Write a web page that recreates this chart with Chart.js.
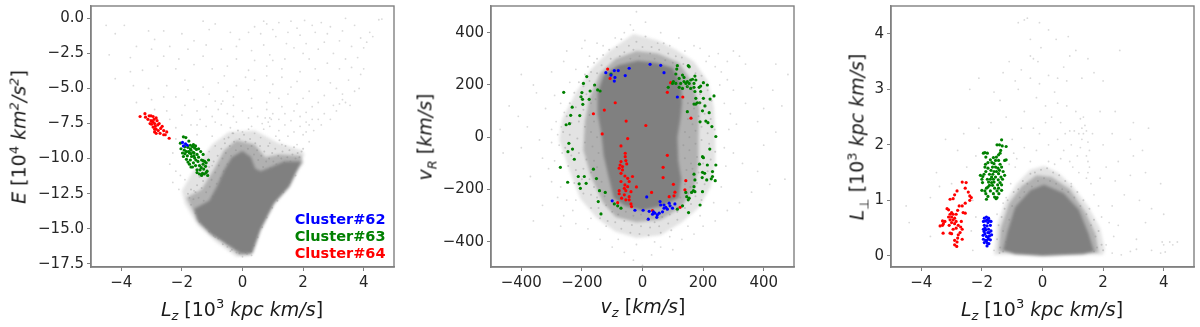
<!DOCTYPE html>
<html lang="en">
<head>
<meta charset="UTF-8">
<title>Cluster 62, 63, 64 phase space</title>
<style>
    body { margin: 0; background: #fff; font-family: "DejaVu Sans", sans-serif; }
    #wrap { position: relative; width: 1200px; height: 327px; overflow: hidden; filter: blur(0.4px); }
    canvas { position: absolute; top: 0; }
    canvas.dense { filter: blur(1.5px); }
    .lab { position: absolute; font-size: 19px; color: #1a1a1a; white-space: nowrap; transform: translate(-50%, -50%); line-height: 1; }
    .lab.rot { transform: translate(-50%, -50%) rotate(-90deg); }
    .lab sub, .lab sup { font-size: 13px; line-height: 0; }
    .key { position: absolute; right: 814.5px; font-size: 14.5px; font-weight: bold; line-height: 1; white-space: nowrap; }
</style>
<script src="https://cdn.jsdelivr.net/npm/chart.js"></script>
</head>
<body>
<div id="wrap">
    <canvas id="p1d" class="dense" width="400" height="327" style="left:0"></canvas>
    <canvas id="p2d" class="dense" width="400" height="327" style="left:400px"></canvas>
    <canvas id="p3d" class="dense" width="400" height="327" style="left:800px"></canvas>
    <canvas id="p1" width="400" height="327" style="left:0"></canvas>
    <canvas id="p2" width="400" height="327" style="left:400px"></canvas>
    <canvas id="p3" width="400" height="327" style="left:800px"></canvas>

    <div class="lab" style="left:242px;top:309px"><i>L<sub>z</sub></i> [10<sup>3</sup> <i>kpc km/s</i>]</div>
    <div class="lab rot" style="left:19px;top:137px"><i>E</i> [10<sup>4</sup> <i>km<sup>2</sup>/s<sup>2</sup></i>]</div>
    <div class="lab" style="left:643px;top:306px"><i>v<sub>z</sub></i> [<i>km/s</i>]</div>
    <div class="lab rot" style="left:425px;top:137px"><i>v<sub>R</sub></i> [<i>km/s</i>]</div>
    <div class="lab" style="left:1042px;top:309px"><i>L<sub>z</sub></i> [10<sup>3</sup> <i>kpc km/s</i>]</div>
    <div class="lab rot" style="left:857px;top:137px"><i>L<sub>⊥</sub></i> [10<sup>3</sup> <i>kpc km/s</i>]</div>

    <div class="key" style="top:212px;color:#0000ff">Cluster#62</div>
    <div class="key" style="top:229px;color:#008000">Cluster#63</div>
    <div class="key" style="top:246px;color:#ff0000">Cluster#64</div>
</div>
<script>
// tick positions
const lzTicks = [-4, -2, 0, 2, 4];
const energyTicks = [0, -2.5, -5, -7.5, -10, -12.5, -15, -17.5];
const vzTicks = [-400, -200, 0, 200, 400];
const vrTicks = [-400, -200, 0, 200, 400];
const lperpTicks = [0, 1, 2, 3, 4];

// Lz vs E : scattered field stars
const p1Field = [[-1.3,-.2],[.7,-.2],[.8,-.4],[1.2,-.3],[1.6,-.2],[2.05,-.15],[2.3,-.5],[2.6,-.3],[3.4,0],[3.7,-.5],[4.5,-.1],[4.6,-.05],[4.2,-1],[4.3,-1.3],[4.1,-1.7],[4,-2.1],[3.6,-2],[3.2,-1.6],[2.8,-1.1],[2.4,-1],[1.9,-1.2],[1.5,-1],[1.45,-1.8],[1.1,-1.3],[.6,-1.1],[.2,-1],[-.4,-1],[-1.1,-.8],[-2,-1.1],[-2.6,-.9],[-3.1,-.9],[-3.9,-.5],[-4.5,-.5],[-4.2,-1.1],[-4.4,-2.6],[-3.7,-2.8],[-3,-2.2],[-2.4,-2],[-1.8,-2.2],[-1.2,-1.9],[-.7,-2.2],[-.2,-2],[.3,-2.3],[.9,-2.6],[1.4,-2.9],[2,-2.5],[2.5,-2.2],[3,-2.5],[3.4,-2.9],[3.8,-2.8],[4,-3.6],[3.9,-4],[3.5,-4.4],[3.85,-5],[3.7,-5.2],[3.3,-5.8],[3.4,-6],[3.55,-6.2],[2.9,-4.6],[2.4,-3.6],[1.9,-3.8],[1.3,-3.6],[.8,-3.4],[.2,-3.7],[-.5,-3.4],[-1,-3.6],[-1.6,-3.3],[-2.2,-3.6],[-2.8,-3.4],[-3.3,-3.7],[-4.2,-4.3],[-3.6,-4.8],[-3.1,-5],[-2.5,-4.8],[-1.9,-4.4],[-1.3,-4.9],[-.8,-4.6],[-.2,-4.8],[.4,-4.4],[1,-4.7],[1.6,-4.9],[2.2,-5.2],[2.7,-5.5],[3,-6.2],[-3.5,-6],[-3,-5.8],[-2.2,-5.6],[-1.6,-5.8],[-.9,-5.9],[-.7,-6.1],[-.3,-5.6],[.3,-5.7],[.8,-6],[1.2,-5.7],[1.8,-6.1],[2.3,-6.3],[2.7,-6.8],[3.1,-6.6],[-2.5,-6.6],[-2,-6.9],[-1.5,-6.6],[-1,-7],[-.5,-6.8],[0,-6.6],[.5,-7],[.9,-7.1],[1,-6.8],[1.4,-6.8],[1.9,-7],[2.3,-7.2],[2.6,-7.6],[2.35,-8],[1.9,-7.7],[1.4,-7.6],[.9,-7.7],[.3,-7.7],[-.2,-7.4],[-.7,-7.6],[-1.2,-7.7],[-1.7,-7.6],[-2.2,-7.8],[-2.2,-8.6],[-1.5,-8.3],[-1,-8.4],[-.6,-8.6],[.6,-8.5],[1.1,-8.4],[1.5,-8.4],[2,-8.3],[2.2,-8.8],[1.8,-9],[1.3,-9],[.9,-8.9],[-2.3,-9.6],[-2.4,-10.4],[-2.2,-10.9],[-2.3,-11.7],[-2.1,-12.2],[-1.9,-11.5],[-1.1,-9.5],[-.9,-9.1],[-1,-10.5],[-1.6,-12.3],[-1.75,-12.8],[-.5,-16.3],[-.4,-16.6],[0,-17],[.3,-16.9],[.15,-16.8],[-.2,-16.7],[-1.2,-14.9],[-.9,-15.6],[.95,-7.2],[.85,-7.4],[.75,-7.1],[.4,-8.2],[-.3,-8.2],[0,-8.1],[.2,-7.9],[-2.05,-11.2],[-1.4,-7.2],[-.8,-6.5],[-.65,-5.9],[3.3,-5.4],[3.2,-6.1],[2.2,-7.6],[2.5,-7.2],[-.9,-.4],[.4,-.6],[1,-.8],[1.8,-.7],[2.9,-.6],[3.3,-.9],[3.9,-1.4],[2.1,-1.8],[2.7,-1.7],[.7,-1.9],[-.1,-1.5],[-1.6,-1.6],[-2.9,-1.5],[-3.5,-2],[1.7,-2.1],[2.2,-2.9],[2.8,-3.2],[3.2,-3.6],[3.6,-3.5],[1,-3],[.4,-3],[-.2,-2.9],[-1.3,-2.7],[-2.1,-2.9],[-2.6,-2.7],[-3.7,-3.8],[-.6,-4.1],[.1,-4.2],[.8,-4.1],[1.3,-4.2],[1.8,-4.5],[2.5,-4.4],[3.1,-5],[2.5,-6],[2,-5.7],[1.5,-5.4],[.9,-5.3],[.2,-5.1],[-.5,-5.2],[-1.1,-5.4],[-1.8,-5.1],[-2.6,-5.6],[-2.9,-6.5],[-2.4,-7.2],[-1.9,-6.2],[-1.2,-6.3],[-.3,-6.2],[.3,-6.4],[.8,-6.5],[1.3,-6.3],[1.7,-6.6],[2.1,-6.7],[2.9,-7.2],[-.3,-7],[.2,-7.1],[.65,-7.5],[1.2,-7.2],[1.6,-7.3],[2.1,-7.4],[-.9,-7.4],[-1.5,-7.6],[-.4,-7.8],[.7,-7.9],[1.2,-8],[1.7,-8.1],[2.1,-8.1]];
// Lz vs E : speckle round the dense part
const p1Halo = [[-1.8,-12.5],[-1.7,-12.2],[-1.62,-12.9],[-1.55,-12.4],[-1.5,-11.9],[-1.45,-12.8],[-1.42,-11.3],[-1.35,-12.1],[-1.3,-11.6],[-1.28,-13],[-1.2,-12.4],[-1.15,-11.1],[-1.1,-10.6],[-1.08,-12],[-1.02,-11.5],[-.98,-12.7],[-.95,-10.2],[-.9,-11],[-.85,-11.8],[-.82,-9.8],[-.78,-10.5],[-.72,-11.4],[-.7,-9.3],[-.66,-10],[-.62,-10.9],[-.58,-8.9],[-.55,-9.6],[-.5,-10.4],[-.46,-8.5],[-.42,-9.1],[-.38,-9.8],[-.33,-8.2],[-.28,-8.8],[-.22,-9.4],[-.15,-8],[-.1,-8.6],[-.05,-9.1],[.05,-8.3],[.1,-8.8],[.18,-9.3],[.25,-8.6],[.3,-9.1],[.38,-9.7],[.42,-8.9],[.48,-9.4],[.52,-10.1],[.58,-9.1],[.62,-9.8],[.68,-10.6],[.72,-9.5],[.78,-10.2],[.85,-9.1],[.88,-10],[.92,-10.7],[.98,-9.6],[1.02,-10.2],[1.08,-9.3],[1.12,-10.4],[1.18,-9.8],[1.22,-8.7],[1.28,-10],[1.32,-9.5],[1.38,-10.3],[1.42,-9.1],[1.48,-9.9],[1.55,-9.4],[1.58,-10.2],[1.65,-9.7],[1.7,-9.2],[1.75,-10],[1.82,-9.6],[1.88,-9.9],[1.95,-9.5],[2,-9.3],[-1.7,-13.3],[-1.55,-13.9],[-1.42,-14.5],[-1.25,-14.7],[-1.1,-15.2],[-.95,-15.5],[-.8,-15.7],[-.65,-16.1],[-.5,-16],[-.35,-16.5],[-.2,-16.4],[-.1,-16.75],[.1,-16.7],[.28,-16.6],[.38,-16.2],[.5,-15.6],[.65,-14.9],[.8,-14.2],[.98,-13.5],[1.15,-13],[1.35,-12.4],[1.55,-11.7],[1.75,-11.2]];
// Lz vs E : overplotted density outlines
const p1Outer = [[-2,-12.3],[-1.55,-10.6],[-1,-9],[-.45,-8.1],[.4,-8],[1.2,-8.9],[1.95,-9.4],[2.05,-9.7],[.98,-12.9],[.4,-15.4],[.22,-16.9],[-.2,-17],[-.9,-15.9],[-1.5,-14.7],[-1.9,-13.2]];
const p1Mid = [[-1.85,-12.8],[-1.35,-12.2],[-.95,-10.8],[-.6,-9.4],[-.2,-8.7],[.4,-9],[.75,-9.9],[1.2,-9.7],[1.95,-9.8],[2,-10.3],[1.2,-12.6],[.6,-14.7],[.28,-16.9],[-.1,-16.9],[-.7,-15.9],[-1.4,-14.7]];
const p1Core = [[-1.6,-13.6],[-1.1,-13],[-.85,-12],[-.6,-10.8],[-.35,-9.9],[0,-9.45],[.28,-9.9],[.42,-10.7],[.6,-10.9],[.95,-10.6],[1.37,-10.2],[1.95,-10.2],[1.55,-12],[1.05,-13.2],[.6,-15.1],[.33,-16.75],[-.05,-16.75],[-.6,-16],[-1.05,-15.4],[-1.5,-14.4]];
// Lz vs E : clusters
const p1Blue = [[-1.98,-8.85],[-1.95,-9.1],[-1.88,-8.95],[-1.82,-9.05]];
const p1Green = [[-2.05,-8.9],[-1.95,-8.45],[-1.87,-8.5],[-2.03,-9.3],[-1.98,-9.6],[-1.92,-9.4],[-1.85,-9.5],[-1.82,-9.8],[-1.8,-9.2],[-1.77,-8.75],[-1.75,-9.6],[-1.72,-10.1],[-1.7,-9.4],[-1.68,-9.85],[-1.65,-9.15],[-1.62,-10.3],[-1.6,-9.6],[-1.58,-9.95],[-1.55,-10.5],[-1.52,-9.35],[-1.5,-9.7],[-1.47,-10.2],[-1.45,-9.9],[-1.42,-10.5],[-1.4,-10.8],[-1.38,-9.5],[-1.35,-10.1],[-1.32,-11.05],[-1.3,-10.4],[-1.28,-10.75],[-1.25,-10.2],[-1.22,-10.55],[-1.2,-11],[-1.17,-10.9],[-1.15,-11.2],[-1.12,-10.1],[-1.75,-10.4],[-1.85,-10.05],[-1.65,-10.6],[-1.72,-9.05],[-1.58,-9.25],[-1.5,-10.8],[-1.42,-11.1],[-1.95,-9.85],[-1.8,-10.25],[-1.62,-9.55],[-1.36,-10.65],[-1.3,-10.15],[-1.26,-11.1],[-1.6,-9.8],[-1.54,-10.1],[-1.7,-9.65],[-1.9,-9.65],[-1.78,-9.5],[-1.45,-9.3],[-1.3,-9.7],[-1.2,-10.3],[-1.5,-11],[-1.7,-10.6],[-1.55,-9.1],[-1.62,-9],[-1.9,-9.15],[-1.72,-9.3],[-1.35,-11.2]];
const p1Red = [[-3.38,-7],[-3.22,-6.8],[-3.2,-7.05],[-3.12,-7.2],[-3.08,-6.95],[-3.02,-6.95],[-2.98,-7.35],[-2.95,-7],[-2.92,-7.2],[-3,-7.55],[-3.05,-7.5],[-2.9,-7.5],[-2.85,-7.1],[-2.82,-7.3],[-2.88,-7.7],[-2.95,-7.75],[-2.85,-7.9],[-2.8,-7.6],[-2.75,-7.5],[-2.78,-8],[-2.72,-8.2],[-2.85,-8.2],[-2.7,-7.85],[-2.65,-7.7],[-2.6,-8],[-2.55,-8.3],[-2.5,-8.1],[-2.42,-8.55],[-2.6,-8.3],[-2.9,-8.1],[-3.02,-7.3],[-2.95,-7.4],[-2.9,-7.9]];

// vz vs vR : scattered field stars
const p2Field = [[-20,480],[10,440],[-40,430],[-30,410],[60,400],[-90,380],[120,380],[-150,360],[170,350],[300,330],[320,310],[280,290],[340,280],[250,320],[-260,290],[-300,250],[-400,240],[-360,200],[-350,170],[-290,160],[-320,110],[-410,80],[-380,40],[-300,30],[-340,-10],[-400,-40],[-460,-60],[-330,-80],[-310,-120],[-370,-150],[-300,-170],[-280,-230],[-330,-260],[-360,-320],[-260,-300],[-220,-330],[-180,-350],[-140,-390],[-100,-420],[-60,-440],[-30,-470],[0,-490],[30,-450],[60,-420],[100,-430],[130,-390],[170,-370],[200,-340],[240,-320],[280,-280],[320,-250],[360,-210],[420,-180],[470,-160],[380,-130],[330,-100],[300,-60],[400,-30],[440,20],[380,60],[310,50],[290,90],[340,130],[400,110],[460,120],[430,180],[360,190],[300,180],[280,220],[260,250],[240,270],[220,310],[190,340],[440,280],[480,240],[-440,120],[-470,30],[-250,330],[-200,340],[-190,370],[-270,-340],[-230,-280],[-290,-90],[-280,10],[-300,-20],[-285,60],[-270,130],[-240,210],[-220,260],[-175,310],[-130,350],[-60,400],[50,360],[90,350],[140,330],[210,290],[255,200],[270,130],[285,30],[270,-40],[275,-110],[260,-190],[235,-250],[190,-300],[150,-340],[90,-380],[40,-400],[-20,-410],[-80,-390],[-120,-340],[-170,-310],[-220,-240],[-250,-240],[-270,-190],[-275,-30],[-265,-60],[-268,40],[-258,95]];
// vz vs vR : speckle round the dense part
const p2Halo = [[-70,375],[-45,350],[-20,365],[10,385],[30,345],[70,360],[-110,335],[-85,345],[-60,325],[-30,335],[0,345],[25,320],[55,335],[85,320],[110,310],[130,305],[-150,300],[-130,315],[-105,300],[-75,310],[-40,300],[-10,310],[40,300],[75,295],[100,285],[135,280],[155,265],[-180,270],[-160,285],[-135,275],[-190,240],[-170,250],[-150,245],[175,245],[195,235],[-210,210],[-195,195],[-175,215],[-160,195],[150,195],[165,180],[190,165],[215,180],[-225,170],[-205,155],[-185,165],[-170,130],[-155,145],[150,130],[170,110],[190,130],[210,120],[228,140],[-240,130],[-220,115],[-195,105],[-175,85],[-160,60],[150,70],[165,50],[185,80],[205,90],[225,70],[-250,80],[-235,55],[-210,60],[-190,40],[-170,20],[-150,0],[140,20],[155,0],[175,25],[195,40],[215,15],[238,30],[-262,20],[-240,10],[-215,-5],[-190,-20],[-165,-35],[-145,-60],[135,-30],[155,-50],[175,-25],[195,-10],[220,-25],[240,-55],[-255,-40],[-235,-70],[-210,-60],[-185,-85],[-160,-90],[140,-80],[160,-100],[180,-75],[200,-100],[225,-85],[-245,-110],[-220,-125],[-195,-120],[-170,-135],[-150,-115],[145,-125],[165,-120],[185,-135],[215,-130],[-225,-175],[-200,-160],[-175,-160],[-160,-190],[-135,-170],[140,-180],[158,-190],[180,-175],[205,-180],[-195,-215],[-170,-220],[-150,-230],[-125,-225],[125,-230],[150,-215],[175,-225],[195,-240],[-170,-270],[-145,-270],[-120,-260],[-100,-285],[-80,-295],[-55,-285],[-30,-300],[-5,-295],[15,-315],[40,-325],[65,-305],[90,-295],[115,-285],[140,-270],[160,-255],[-140,-310],[-115,-320],[-90,-325],[-60,-320],[-35,-335],[-5,-340],[25,-345],[55,-340],[85,-330],[115,-315],[-70,-350],[-40,-365],[-10,-370],[20,-375],[60,-365],[95,-355]];
const p2Outer = [[-30,395],[50,370],[110,335],[170,290],[215,215],[235,120],[240,20],[240,-90],[225,-190],[185,-270],[130,-325],[60,-375],[-20,-385],[-90,-360],[-150,-310],[-205,-235],[-240,-130],[-275,-10],[-265,70],[-220,170],[-170,260],[-110,330]];
const p2Mid = [[-20,330],[50,320],[120,285],[165,210],[188,110],[185,10],[185,-100],[172,-190],[128,-268],[60,-315],[-20,-325],[-88,-305],[-130,-250],[-170,-150],[-195,-50],[-190,60],[-175,150],[-140,245],[-88,300]];
const p2Core = [[-15,293],[45,285],[100,265],[128,200],[130,130],[125,70],[115,0],[118,-90],[128,-160],[120,-232],[65,-262],[0,-280],[-58,-262],[-95,-232],[-112,-150],[-128,-70],[-135,10],[-148,90],[-148,170],[-128,238],[-80,275]];
const p2Blue = [[-121,247],[-93,255],[-80,255],[-104,238],[-91,229],[-93,215],[-57,236],[-44,264],[25,279],[60,275],[71,247],[115,154],[-100,-243],[14,-228],[-25,-279],[2,-279],[22,-283],[19,-313],[36,-285],[41,-290],[47,-306],[55,-290],[66,-285],[71,-271],[58,-246],[71,-259],[82,-275],[88,-252],[99,-271],[107,-255],[91,-262],[77,-268],[49,-297],[33,-294],[60,-259]];
const p2Green = [[115,274],[151,274],[113,261],[154,270],[110,242],[132,238],[121,225],[137,229],[173,234],[165,222],[159,219],[148,213],[143,206],[176,219],[102,213],[99,206],[110,206],[126,206],[137,213],[154,206],[170,206],[201,209],[192,196],[214,200],[85,191],[121,191],[132,187],[148,194],[159,187],[170,191],[187,191],[173,175],[192,175],[236,158],[223,146],[201,149],[176,149],[181,132],[170,127],[189,132],[206,120],[176,127],[220,94],[198,101],[148,98],[190,59],[209,62],[216,56],[229,41],[242,3],[222,-45],[198,-74],[201,-78],[188,-103],[214,-106],[242,-106],[231,-131],[198,-134],[205,-138],[170,-141],[197,-154],[231,-150],[227,-159],[240,-166],[212,-163],[173,-163],[170,-189],[168,-204],[198,-208],[143,-211],[162,-211],[173,-208],[146,-227],[154,-233],[151,-239],[190,-259],[152,-288],[115,-275],[132,-262],[-260,172],[-184,232],[-195,206],[-158,200],[-200,171],[-173,177],[-148,181],[-140,177],[-203,155],[-176,145],[-198,145],[-197,126],[-232,115],[-237,84],[-207,83],[-252,48],[-241,52],[-243,-23],[-231,-45],[-246,-55],[-225,-84],[-271,-115],[-162,-122],[-212,-150],[-192,-150],[-152,-158],[-247,-172],[-209,-178],[-186,-176],[-205,-195],[-142,-204],[-123,-211],[-146,-246],[-137,-293],[-93,-255],[-82,-262],[-71,-271],[-104,242]];
const p2Red = [[-115,261],[-107,225],[-90,132],[-126,104],[-162,90],[-133,13],[-54,62],[11,45],[-49,-5],[-71,-33],[-57,-61],[-57,-74],[-55,-89],[-71,-93],[-52,-102],[-74,-106],[-66,-112],[-77,-118],[-71,-138],[-58,-148],[-49,-157],[-33,-150],[-44,-169],[-58,-182],[-49,-189],[-60,-195],[-20,-190],[-77,-204],[-55,-204],[-38,-208],[-77,-216],[-60,-220],[-44,-227],[-69,-233],[-55,-239],[-44,-239],[-82,-250],[-38,-255],[-36,-265],[30,-211],[33,-280],[82,-69],[68,-115],[68,-154],[102,-180],[107,-210],[143,-166],[140,-201],[88,-227],[104,-224],[124,-268],[82,172],[93,209],[133,154],[160,73],[-71,-169],[-66,-125]];

// Lz vs L perp : scattered field stars
const p3Field = [[-.8,4.2],[-.6,4.25],[-.5,4.28],[-.1,4.2],[.2,4.07],[-.4,3.9],[.85,3.95],[.45,3.9],[.9,3.6],[-.4,3.6],[-.3,3.55],[-.15,3.5],[2.55,3.7],[1.5,3.55],[-1.1,3.5],[-.7,3.35],[-2.1,3.2],[-1.3,3.3],[-.9,3.15],[-.4,3.2],[-.1,3.1],[.2,3.25],[.5,3.2],[.8,3.15],[1.3,3.2],[1.7,3.3],[2,3.15],[-2.4,3],[-1.6,2.95],[-.8,3],[-.2,2.85],[.4,2.95],[.5,2.75],[.8,2.7],[1.1,2.6],[1.25,2.47],[1.35,2.5],[1.4,2.35],[1.3,2.3],[1.2,2.2],[1.45,2.25],[1.35,2.2],[1.3,2.1],[1.5,2.05],[1.55,1.9],[1.45,1.8],[1.5,1.7],[1.55,1.6],[1.5,1.5],[1.45,1.4],[1.05,2.25],[.9,2.25],[.3,2.5],[.1,2.4],[-.1,2.2],[-.3,2.3],[.5,2.1],[-.6,2.6],[-1.2,2.5],[-1.7,2.4],[-2.1,2.3],[-2.6,2.2],[-3.2,2.1],[-1,2.1],[-.2,1.9],[.2,2],[.7,1.9],[.9,1.7],[2,2],[2.3,2.2],[2.9,2.1],[3.5,2.3],[3,1.8],[2.5,1.7],[2.1,1.6],[1.9,1.4],[2.4,1.35],[2.9,1.45],[3.4,1.5],[3.9,1.3],[2.7,1.1],[3.2,1],[3.6,.85],[4,.75],[2.3,.9],[2.5,.55],[2.2,.6],[2.35,.35],[2.1,.2],[2.3,.05],[2.6,.02],[2.9,.08],[3.1,.12],[3.6,.1],[3.9,.05],[4,.2],[3.95,.25],[4.2,.25],[4.3,.2],[4.05,.07],[4.45,.25],[3.1,.3],[3.4,.6],[-3.7,1.05],[-4.5,.9],[-4.4,.6],[-3.7,.35],[-3.5,1.5],[-2.5,1.6],[-2.2,1.8],[-3,1.3],[-2.3,1],[-2.2,.7],[-2.35,.45],[-2.3,.1],[-1.6,.1],[-1.5,.75],[-1.3,.95],[-1.2,1.05],[-1.1,1.65],[-.9,1.6],[-.85,1.75],[.2,1.7],[.4,1.65],[-.4,1.7],[1.2,1.5],[.95,1.3],[-3.4,1.25],[.6,2.4],[.75,2.2],[.95,2],[1.15,1.8],[1.25,1.95],[1.65,2.2],[1.6,1.3],[1.7,1.1],[1.85,.9],[1.95,.7],[1,1.6],[.6,1.75],[-.6,1.95],[-.95,1.85],[-1.05,1.3],[-.7,2.3],[-1.4,2.8],[.1,2.7],[.7,3.4],[-.05,3.75],[1.1,3.7],[1.9,2.6],[2.4,2.6],[3,2.4],[3.3,1.9],[-2.8,1.9]];
// Lz vs L perp : speckle round the dense part
const p3Halo = [[-1.5,.3],[-1.45,.55],[-1.4,.15],[-1.35,.7],[-1.3,.45],[-1.25,.85],[-1.2,.25],[-1.15,1],[-1.1,.65],[-1,.9],[-.95,1.15],[-.9,.75],[-.8,1.2],[-.75,1.05],[-.65,1.35],[-.6,1.15],[-.5,1.3],[-.4,1.48],[-.35,1.25],[-.25,1.5],[-.15,1.35],[-.05,1.55],[.05,1.4],[.15,1.58],[.25,1.35],[.35,1.5],[.45,1.3],[.55,1.45],[.65,1.2],[.75,1.35],[.85,1.15],[.95,1.25],[1.05,1.05],[1.15,1.15],[1.25,.9],[1.35,1],[1.45,.75],[1.55,.85],[1.6,.55],[1.7,.65],[1.75,.35],[1.85,.45],[1.8,.15],[1.95,.2],[2,.1],[1.7,.08],[-1.42,.05],[-1.3,.08]];
const p3Outer = [[-1.6,.02],[-1.5,.55],[-1.25,.95],[-.85,1.3],[-.4,1.55],[.05,1.62],[.5,1.5],[1,1.25],[1.5,.9],[1.9,.5],[2.05,.12],[2,.02]];
const p3Mid = [[-1.45,.08],[-1.38,.5],[-1.1,.95],[-.7,1.25],[-.2,1.45],[.3,1.42],[.9,1.2],[1.4,.8],[1.75,.4],[1.85,.06],[.2,.01]];
const p3Core = [[-1.3,.1],[-1.15,.45],[-.9,.88],[-.4,1.18],[.05,1.28],[.7,1.13],[1.2,.83],[1.52,.4],[1.7,.08],[1.35,.03],[0,0],[-.9,.03]];
const p3Blue = [[-1.92,.68],[-1.85,.7],[-1.78,.68],[-1.95,.62],[-1.88,.63],[-1.8,.6],[-1.75,.63],[-1.92,.55],[-1.83,.54],[-1.72,.55],[-1.95,.48],[-1.87,.47],[-1.78,.48],[-1.7,.45],[-1.9,.4],[-1.8,.42],[-1.96,.37],[-1.85,.35],[-1.75,.36],[-1.68,.38],[-1.95,.3],[-1.87,.28],[-1.78,.3],[-1.72,.29],[-1.92,.24],[-1.82,.23],[-1.77,.22],[-1.83,.18],[-1.9,.5],[-1.82,.65],[-1.76,.42],[-1.85,.27],[-1.7,.62],[-1.93,.44],[-1.8,.33]];
const p3Green = [[-1.35,2.09],[-1.42,2],[-1.5,2],[-1.33,1.98],[-1.2,1.97],[-1.38,1.9],[-1.9,1.86],[-1.95,1.85],[-1.82,1.85],[-1.4,1.85],[-1.45,1.82],[-1.87,1.78],[-1.62,1.77],[-1.52,1.78],[-1.72,1.73],[-1.55,1.72],[-1.45,1.72],[-1.2,1.73],[-1.25,1.72],[-1.88,1.65],[-1.8,1.68],[-1.67,1.68],[-1.6,1.66],[-1.4,1.65],[-1.9,1.6],[-1.8,1.58],[-1.65,1.6],[-1.55,1.6],[-1.47,1.58],[-1.35,1.6],[-1.87,1.52],[-1.7,1.54],[-1.6,1.52],[-1.52,1.52],[-1.42,1.54],[-1.3,1.52],[-1.93,1.47],[-1.75,1.47],[-1.64,1.47],[-1.45,1.48],[-1.25,1.45],[-2.05,1.45],[-1.97,1.43],[-1.68,1.42],[-1.55,1.42],[-1.37,1.42],[-2,1.38],[-1.82,1.38],[-1.72,1.38],[-1.62,1.38],[-1.46,1.37],[-1.32,1.38],[-1.98,1.32],[-1.78,1.33],[-1.68,1.32],[-1.6,1.33],[-1.4,1.32],[-1.75,1.27],[-1.65,1.27],[-1.48,1.28],[-1.35,1.28],[-1.85,1.22],[-1.8,1.24],[-1.58,1.22],[-1.45,1.22],[-2,1.18],[-1.9,1.17],[-1.72,1.17],[-1.5,1.17],[-1.35,1.18],[-1.87,1.12],[-1.62,1.12],[-1.44,1.12],[-1.8,1.07],[-1.58,1.06],[-1.5,1.05],[-1.85,1.02],[-1.53,1.03]];
const p3Red = [[-2.65,1.33],[-2.52,1.32],[-2.55,1.22],[-2.45,1.15],[-2.82,1.17],[-2.9,1.1],[-2.4,1.08],[-2.35,1.05],[-3.05,1.02],[-2.95,1.03],[-2.4,1],[-2.55,.95],[-2.65,.9],[-2.75,.9],[-3.15,.85],[-3.1,.83],[-2.8,.82],[-2.62,.78],[-2.55,.77],[-3.05,.75],[-3,.78],[-2.95,.75],[-2.85,.75],[-3.1,.7],[-3,.7],[-2.9,.68],[-3.05,.65],[-2.95,.65],[-2.85,.62],[-2.68,.62],[-3.3,.63],[-3.22,.62],[-3,.6],[-3.27,.58],[-3.08,.55],[-2.9,.58],[-2.78,.55],[-3.38,.54],[-3.3,.55],[-2.7,.52],[-2.65,.48],[-2.85,.5],[-2.95,.48],[-3.28,.41],[-3.05,.41],[-3,.4],[-2.72,.42],[-2.78,.38],[-2.8,.32],[-2.9,.28],[-2.82,.25],[-2.9,.2],[-2.83,.17],[-2.65,.3]];

const GREY = '#808080';
const tickText = (v, digits) => v.toFixed(digits).replace('-', '\u2212');

// the matplotlib style box round the plot area
const frame = {
    id: 'frame',
    afterDraw(chart) {
        const { ctx, chartArea: a } = chart;
        ctx.save();
        ctx.strokeStyle = GREY;
        ctx.lineWidth = 1.4;
        ctx.strokeRect(a.left, a.top, a.right - a.left, a.bottom - a.top);
        ctx.restore();
    }
};

function pts(list) {
    return list.map(p => ({ x: p[0], y: p[1] }));
}

function shape(label, list, color) {
    return { label, data: pts(list), showLine: true, fill: 'shape', tension: 0, borderWidth: 0, borderColor: 'transparent', backgroundColor: color, pointRadius: 0 };
}

function dots(label, list, color, radius) {
    return { label, data: pts(list), backgroundColor: color, borderWidth: 0, pointRadius: radius };
}

function axis(min, max, ticks, digits, size, vertical) {
    const opts = {
        type: 'linear',
        min,
        max,
        afterBuildTicks: s => { s.ticks = ticks.map(value => ({ value })); },
        ticks: {
            autoSkip: false,
            maxRotation: 0,
            padding: 3,
            color: '#262626',
            font: { family: 'DejaVu Sans', size: 15 },
            callback: v => tickText(v, digits)
        },
        grid: { drawOnChartArea: false, color: GREY, tickLength: 4 },
        border: { color: GREY, width: 1.4 }
    };
    // fix the box so the plot area lands where it does in the figure
    opts.afterFit = s => {
        if (vertical) s.width = size; else s.height = size;
        s.paddingTop = s.paddingBottom = s.paddingLeft = s.paddingRight = 0;
    };
    return opts;
}

function panel(id, field, halo, outer, mid, core, blue, green, red, xAxis, yAxis) {
    // blurred layer underneath for the overplotted mass
    new Chart(document.getElementById(id + 'd'), {
        type: 'scatter',
        data: {
            datasets: [
                shape('outer', outer, 'rgba(128,128,128,0.22)'),
                shape('mid', mid, 'rgba(128,128,128,0.5)'),
                shape('core', core, GREY)
            ]
        },
        options: {
            responsive: false,
            animation: false,
            layout: { padding: { left: 91, top: 6, right: 6, bottom: 60 } },
            plugins: { legend: { display: false }, tooltip: { enabled: false } },
            scales: {
                x: { type: 'linear', min: xAxis.min, max: xAxis.max, display: false },
                y: { type: 'linear', min: yAxis.min, max: yAxis.max, display: false }
            }
        }
    });
    new Chart(document.getElementById(id), {
        type: 'scatter',
        data: {
            datasets: [
                dots('field', field, 'rgba(128,128,128,0.3)', 0.9),
                dots('halo', halo, 'rgba(128,128,128,0.35)', 1),
                dots('Cluster#62', blue, '#0000ff', 1.6),
                dots('Cluster#63', green, '#008000', 1.6),
                dots('Cluster#64', red, '#ff0000', 1.6)
            ]
        },
        options: {
            responsive: false,
            animation: false,
            layout: { padding: { left: 0, top: 6, right: 6, bottom: 0 } },
            plugins: { legend: { display: false }, tooltip: { enabled: false } },
            scales: { x: xAxis, y: yAxis }
        },
        plugins: [frame]
    });
}

panel('p1', p1Field, p1Halo, p1Outer, p1Mid, p1Core, p1Blue, p1Green, p1Red,
    axis(-5, 5, lzTicks, 0, 60, false), axis(-17.73, 0.88, energyTicks, 1, 91, true));
panel('p2', p2Field, p2Halo, p2Outer, p2Mid, p2Core, p2Blue, p2Green, p2Red,
    axis(-500, 500, vzTicks, 0, 60, false), axis(-496, 502, vrTicks, 0, 91, true));
panel('p3', p3Field, p3Halo, p3Outer, p3Mid, p3Core, p3Blue, p3Green, p3Red,
    axis(-5, 5, lzTicks, 0, 60, false), axis(-0.2, 4.5, lperpTicks, 0, 91, true));
</script>
</body>
</html>
